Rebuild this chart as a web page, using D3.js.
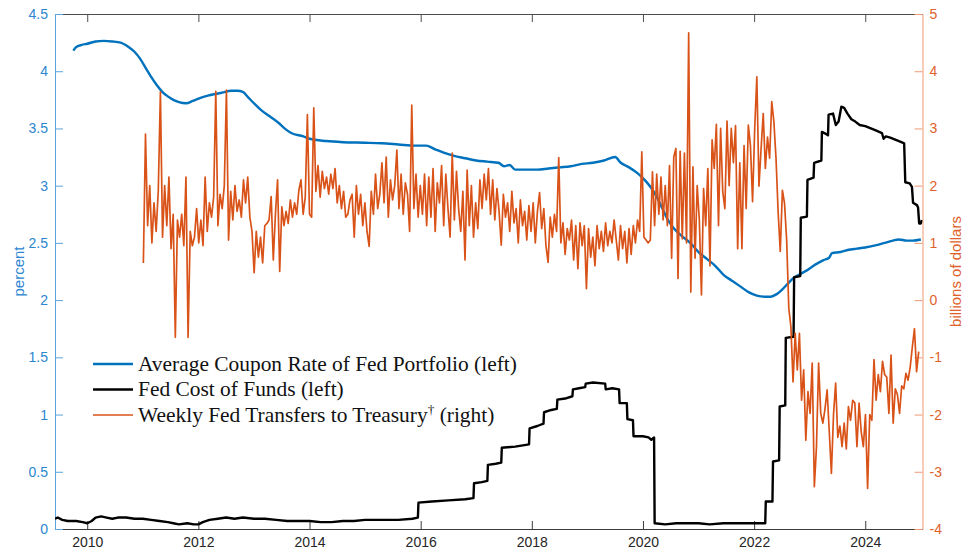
<!DOCTYPE html>
<html>
<head>
<meta charset="utf-8">
<script src="https://cdn.jsdelivr.net/npm/d3@7"></script>
<style>
  body { margin: 0; background: #ffffff; }
  svg { display: block; }
</style>
</head>
<body>
<svg id="chart" width="963" height="552"></svg>
<script>
// ---- data -------------------------------------------------------------
const yearTicks = [2010, 2012, 2014, 2016, 2018, 2020, 2022, 2024];
const leftTicks = [0, 0.5, 1, 1.5, 2, 2.5, 3, 3.5, 4, 4.5];
const rightTicks = [-4, -3, -2, -1, 0, 1, 2, 3, 4, 5];

const seriesNames = [
  "Average Coupon Rate of Fed Portfolio (left)",
  "Fed Cost of Funds (left)",
  "Weekly Fed Transfers to Treasury"
];

// average coupon rate of the SOMA portfolio, percent [year, value]
const couponRate = [
  [2009.75,4.18],[2009.8,4.21],[2009.9,4.23],[2010.0,4.24],[2010.15,4.26],[2010.3,4.265],
  [2010.45,4.26],[2010.6,4.25],[2010.75,4.21],[2010.85,4.17],[2010.95,4.11],[2011.05,4.03],
  [2011.15,3.95],[2011.25,3.88],[2011.35,3.82],[2011.45,3.78],[2011.55,3.75],[2011.65,3.73],
  [2011.78,3.72],[2011.9,3.74],[2012.05,3.77],[2012.2,3.79],[2012.4,3.81],[2012.6,3.83],
  [2012.7,3.83],[2012.8,3.82],[2012.9,3.77],[2013.0,3.72],[2013.13,3.66],[2013.3,3.6],
  [2013.44,3.55],[2013.55,3.5],[2013.67,3.46],[2013.89,3.43],[2014.0,3.41],[2014.3,3.39],
  [2014.6,3.38],[2015.0,3.375],[2015.3,3.37],[2015.6,3.36],[2015.9,3.35],[2016.1,3.35],
  [2016.25,3.32],[2016.4,3.29],[2016.6,3.26],[2016.8,3.24],[2017.0,3.22],[2017.2,3.21],
  [2017.4,3.2],[2017.5,3.17],[2017.6,3.18],[2017.7,3.14],[2017.9,3.14],[2018.1,3.14],
  [2018.3,3.15],[2018.5,3.16],[2018.7,3.17],[2018.9,3.19],[2019.1,3.2],[2019.3,3.22],
  [2019.5,3.25],[2019.6,3.2],[2019.75,3.16],[2019.9,3.11],[2020.05,3.04],[2020.15,2.98],
  [2020.25,2.9],[2020.35,2.8],[2020.45,2.7],[2020.55,2.63],[2020.7,2.56],[2020.85,2.5],
  [2021.0,2.42],[2021.15,2.36],[2021.3,2.3],[2021.45,2.22],[2021.6,2.17],[2021.75,2.12],
  [2021.9,2.07],[2022.05,2.04],[2022.2,2.03],[2022.3,2.03],[2022.4,2.05],[2022.5,2.09],
  [2022.6,2.14],[2022.7,2.19],[2022.8,2.22],[2022.95,2.26],[2023.1,2.31],[2023.25,2.35],
  [2023.35,2.37],[2023.4,2.41],[2023.55,2.42],[2023.7,2.44],[2023.85,2.45],[2024.0,2.46],
  [2024.2,2.48],[2024.35,2.5],[2024.5,2.52],[2024.6,2.53],[2024.75,2.52],[2024.85,2.52],
  [2025.0,2.53]
];

// Fed cost of funds, percent [year, value]
const costOfFunds = [
  [2009.42,0.09],[2009.47,0.1],[2009.55,0.08],[2009.65,0.07],[2009.8,0.07],[2009.92,0.06],
  [2010.0,0.05],[2010.08,0.07],[2010.15,0.1],[2010.25,0.11],[2010.35,0.1],[2010.45,0.09],
  [2010.55,0.1],[2010.7,0.1],[2010.85,0.09],[2011.0,0.09],[2011.15,0.08],[2011.3,0.07],
  [2011.45,0.06],[2011.55,0.05],[2011.65,0.04],[2011.8,0.05],[2011.92,0.04],[2012.0,0.04],
  [2012.08,0.06],[2012.2,0.08],[2012.35,0.09],[2012.5,0.1],[2012.65,0.09],[2012.8,0.1],
  [2013.0,0.09],[2013.2,0.09],[2013.4,0.08],[2013.6,0.07],[2013.8,0.07],[2014.0,0.07],
  [2014.2,0.06],[2014.4,0.06],[2014.6,0.07],[2014.8,0.07],[2015.0,0.08],[2015.3,0.08],
  [2015.6,0.08],[2015.85,0.09],[2015.95,0.1],
  [2015.96,0.23],[2016.2,0.24],[2016.5,0.25],[2016.8,0.26],[2016.95,0.27],
  [2016.96,0.4],[2017.1,0.41],[2017.2,0.42],
  [2017.21,0.56],[2017.35,0.57],[2017.45,0.58],
  [2017.46,0.71],[2017.7,0.72],[2017.95,0.74],
  [2017.96,0.88],[2018.1,0.9],[2018.21,0.92],
  [2018.22,1.02],[2018.35,1.04],[2018.45,1.05],
  [2018.46,1.13],[2018.6,1.14],[2018.73,1.16],
  [2018.74,1.22],[2018.85,1.23],[2018.96,1.24],
  [2018.97,1.27],[2019.1,1.28],[2019.32,1.27],
  [2019.33,1.22],[2019.45,1.23],[2019.57,1.22],
  [2019.58,1.1],[2019.71,1.1],
  [2019.72,0.96],[2019.82,0.95],
  [2019.83,0.81],[2020.0,0.81],[2020.1,0.8],[2020.15,0.78],[2020.2,0.8],
  [2020.21,0.05],[2020.4,0.04],[2020.6,0.05],[2020.8,0.05],[2021.0,0.05],[2021.2,0.04],
  [2021.45,0.05],[2021.6,0.05],[2021.8,0.05],[2022.0,0.05],[2022.2,0.05],
  [2022.21,0.24],[2022.33,0.24],[2022.34,0.59],[2022.45,0.6],[2022.46,1.07],[2022.56,1.08],
  [2022.57,1.67],[2022.71,1.68],[2022.72,2.2],[2022.83,2.21],[2022.84,2.72],[2022.95,2.73],
  [2022.96,3.05],[2023.07,3.07],[2023.08,3.2],[2023.21,3.22],[2023.22,3.47],[2023.3,3.45],
  [2023.33,3.44],[2023.34,3.62],[2023.42,3.63],[2023.47,3.53],[2023.52,3.56],[2023.57,3.69],
  [2023.62,3.68],[2023.68,3.63],[2023.75,3.58],[2023.82,3.56],[2023.9,3.53],[2024.0,3.52],
  [2024.1,3.5],[2024.2,3.48],[2024.3,3.46],[2024.33,3.41],[2024.37,3.43],[2024.45,3.42],
  [2024.55,3.4],[2024.65,3.38],[2024.7,3.37],[2024.72,3.03],[2024.8,3.02],[2024.84,2.99],
  [2024.86,2.85],[2024.93,2.83],[2024.95,2.81],[2024.97,2.67],[2025.0,2.67],[2025.02,2.7]
];

// transfers to Treasury, billions of dollars, one value every two weeks from Jan 2011
const transferStart = 2011.01;
const transferStepDays = 14;
const transfers = [
  // 2011
  0.65, 2.9, 1.3, 2.0, 1.0, 1.7, 1.2, 1.9, 3.64, 1.1, 2.0, 1.3, 2.15, 0.9, 1.5, -0.65,
  1.4, 1.1, 1.5, 0.95, 2.15, -0.65, 1.2, 0.95, 1.1, 1.6,
  // 2012
  1.0, 1.4, 0.95, 2.15, 1.2, 1.7, 1.45, 1.8, 3.65, 1.3, 1.85, 1.6, 2.0, 3.67, 1.05, 1.9,
  1.4, 2.0, 1.55, 1.75, 1.45, 2.1, 1.7, 2.15, 1.45, 1.2,
  // 2013
  0.48, 1.2, 0.75, 1.1, 0.65, 1.3, 1.34, 1.4, 1.81, 0.7, 1.5, 2.1, 0.5, 1.63, 1.3, 1.55,
  1.34, 1.75, 1.45, 1.7, 1.5, 1.92, 2.1, 1.5, 1.8, 3.24,
  // 2014
  1.5, 1.45, 3.36, 1.9, 2.35, 1.8, 2.25, 1.95, 2.15, 1.85, 2.2, 1.95, 2.3, 1.7, 2.0, 1.6,
  1.9, 1.45, 1.5, 1.75, 1.85, 1.1, 2.0, 1.5, 1.85, 1.3,
  // 2015
  1.7, 1.2, 0.94, 1.9, 1.5, 2.2, 1.6, 1.85, 2.4, 1.7, 2.5, 1.45, 2.1, 1.75, 2.0, 2.62,
  1.6, 2.2, 1.5, 2.05, 1.85, 1.2, 3.41, 1.6, 2.2, 1.45,
  // 2016
  2.0, 1.5, 2.2, 1.3, 2.15, 1.45, 2.3, 1.2, 2.05, 1.7, 2.35, 1.3, 2.2, 1.6, 1.1, 2.57,
  1.4, 2.25, 1.6, 1.2, 1.9, 0.7, 2.27, 1.3, 2.0, 1.1,
  // 2017
  1.7, 1.25, 2.1, 1.6, 2.2, 1.75, 2.3, 1.5, 2.1, 1.4, 1.95, 1.55, 0.96, 1.85, 1.45, 1.7,
  1.2, 1.9, 1.35, 1.6, 1.0, 1.75, 1.3, 1.55, 1.05, 1.65,
  // 2018
  1.2, 1.7, 1.0, 1.55, 1.88, 1.25, 1.6, 0.95, 0.66, 1.45, 1.1, 1.5, 1.2, 2.49, 1.0, 1.35,
  0.8, 1.25, 1.05, 1.4, 0.7, 1.3, 0.55, 1.35, 0.95, 1.3,
  // 2019
  0.2, 1.25, 0.75, 1.1, 0.6, 1.3, 0.9, 1.2, 0.85, 1.35, 0.95, 1.2, 1.0, 1.4, 1.05, 0.7,
  1.3, 0.9, 1.2, 0.65, 1.25, 0.8, 1.3, 1.0, 1.4, 1.2,
  // 2020
  2.59, 1.1, 1.05, 1.0, 1.05, 2.24, 1.3, 2.2, 1.5, 2.15, 1.4, 2.0, 1.3, 2.35, 0.73, 2.5,
  2.65, 0.38, 2.6, 1.07, 2.57, 1.0, 4.67, 0.14, 2.33, 0.73,
  // 2021
  2.0, 1.4, 0.09, 1.95, 1.3, 2.3, 0.6, 2.8, 2.3, 3.07, 1.3, 3.0, 1.89, 1.6, 3.13, 2.0,
  3.0, 2.4, 3.05, 0.9, 2.4, 0.9, 2.7, 1.6, 3.06, 2.7,
  // 2022
  1.72, 3.0, 3.9, 1.99, 2.65, 3.26, 2.3, 2.85, 2.48, 3.47, 3.12, 2.48, 1.54, 0.85, 1.92, 1.69,
  1.05, -0.14, -0.47, -1.43, -0.58, -1.22, -0.58, -1.75, -1.22, -2.45,
  // 2023
  -1.6, -1.98, -1.1, -3.26, -2.56, -1.1, -1.98, -2.15, -1.9, -1.57, -2.3, -3.03, -2.0, -1.45, -2.4, -2.2,
  -2.56, -2.15, -2.6, -1.86, -2.1, -1.75, -1.8, -2.56, -1.8, -2.3,
  // 2024
  -2.56, -2.0, -3.29, -2.0, -2.1, -1.04, -1.75, -1.3, -1.6, -1.07, -1.3, -1.35, -1.98, -0.96, -2.15, -1.55,
  -1.65, -1.98, -1.5, -1.55, -1.28, -1.4, -1.17, -0.82, -0.5, -1.25,
  // 2025
  -0.9
];

// ---- layout & scales --------------------------------------------------
const BLUE = "#0072BD", ORANGE = "#D95319", BLACK = "#000000";
const plot = { left: 55, right: 922.5, top: 14, bottom: 529 };
const sansFont = "'Liberation Sans', Arial, Helvetica, sans-serif";
const serifFont = "'Liberation Serif', 'Times New Roman', serif";

const svg = d3.select("#chart");

const x = d3.scaleLinear().domain([2009.42, 2025.03]).range([plot.left, plot.right]);
const yL = d3.scaleLinear().domain([0, 4.5]).range([plot.bottom, plot.top]);
const yR = d3.scaleLinear().domain([-4, 5]).range([plot.bottom, plot.top]);

svg.append("defs").append("clipPath").attr("id", "plot-clip")
  .append("rect")
  .attr("x", plot.left).attr("y", plot.top)
  .attr("width", plot.right - plot.left).attr("height", plot.bottom - plot.top);

// ---- axes -------------------------------------------------------------
function styleAxis(g, lineColor, textColor, fontSize) {
  g.select(".domain").attr("stroke", lineColor).attr("stroke-width", 1);
  g.selectAll(".tick line").attr("stroke", lineColor).attr("stroke-width", 1);
  g.selectAll(".tick text")
    .attr("fill", textColor)
    .attr("font-family", sansFont)
    .attr("font-size", fontSize);
}

// top frame edge with inward ticks
svg.append("g")
  .attr("transform", `translate(0,${plot.top})`)
  .call(d3.axisTop(x).tickValues(yearTicks).tickFormat("").tickSizeInner(-8).tickSizeOuter(0))
  .call(g => styleAxis(g, "#4d4d4d", "#262626", 14));

// bottom axis
svg.append("g")
  .attr("transform", `translate(0,${plot.bottom})`)
  .call(d3.axisBottom(x).tickValues(yearTicks).tickFormat(d => String(d))
    .tickSizeInner(-8).tickSizeOuter(0).tickPadding(8))
  .call(g => styleAxis(g, "#3a3a3a", "#262626", 14));

// left axis (percent)
svg.append("g")
  .attr("transform", `translate(${plot.left},0)`)
  .call(d3.axisLeft(yL).tickValues(leftTicks).tickFormat(d => String(d))
    .tickSizeInner(-8).tickSizeOuter(0).tickPadding(7))
  .call(g => styleAxis(g, "#5ba4dd", "#2c86d0", 14));

// right axis (billions of dollars)
svg.append("g")
  .attr("transform", `translate(${plot.right},0)`)
  .call(d3.axisRight(yR).tickValues(rightTicks).tickFormat(d => String(d))
    .tickSizeInner(-8).tickSizeOuter(0).tickPadding(7))
  .call(g => styleAxis(g, "#ee9a74", "#e0612a", 14));

// axis titles
svg.append("text")
  .attr("transform", `translate(18,${(plot.top + plot.bottom) / 2}) rotate(-90)`)
  .attr("text-anchor", "middle").attr("dominant-baseline", "central")
  .attr("font-family", sansFont).attr("font-size", 15)
  .attr("fill", "#2c86d0")
  .text("percent");

svg.append("text")
  .attr("transform", `translate(955,${(plot.top + plot.bottom) / 2}) rotate(-90)`)
  .attr("text-anchor", "middle").attr("dominant-baseline", "central")
  .attr("font-family", sansFont).attr("font-size", 15)
  .attr("fill", "#e0612a")
  .text("billions of dollars");

// ---- series -----------------------------------------------------------
const series = svg.append("g").attr("clip-path", "url(#plot-clip)");

series.append("path")
  .datum(couponRate)
  .attr("fill", "none").attr("stroke", BLUE).attr("stroke-width", 2.4)
  .attr("stroke-linejoin", "round")
  .attr("d", d3.line().x(d => x(d[0])).y(d => yL(d[1])).curve(d3.curveMonotoneX));

series.append("path")
  .datum(costOfFunds)
  .attr("fill", "none").attr("stroke", BLACK).attr("stroke-width", 2.4)
  .attr("stroke-linejoin", "round")
  .attr("d", d3.line().x(d => x(d[0])).y(d => yL(d[1])));

const transferPoints = transfers.map((v, i) => [transferStart + i * transferStepDays / 365.25, v]);
series.append("path")
  .datum(transferPoints)
  .attr("fill", "none").attr("stroke", ORANGE).attr("stroke-width", 1.7)
  .attr("stroke-linejoin", "round")
  .attr("d", d3.line().x(d => x(d[0])).y(d => yR(d[1])));

// ---- legend -----------------------------------------------------------
const legendRows = [
  { name: seriesNames[0], color: BLUE, width: 2.4, y: 364 },
  { name: seriesNames[1], color: BLACK, width: 2.4, y: 389.5 },
  { name: seriesNames[2], color: ORANGE, width: 1.7, y: 415, dagger: true }
];
const legendTextWidth = 379;   // width of the longest entry
const legend = svg.append("g");

// size the legend type so the longest entry spans its box
const probe = legend.append("text")
  .attr("font-family", serifFont).attr("font-size", 20)
  .text(seriesNames[0]);
const legendFontSize = 20 * legendTextWidth / probe.node().getComputedTextLength();
probe.remove();

legendRows.forEach(r => {
  legend.append("line")
    .attr("x1", 93).attr("x2", 133).attr("y1", r.y).attr("y2", r.y)
    .attr("stroke", r.color).attr("stroke-width", r.width);
  const t = legend.append("text")
    .attr("x", 138).attr("y", r.y + legendFontSize * 0.32)
    .attr("font-family", serifFont).attr("font-size", legendFontSize)
    .attr("fill", "#111");
  if (r.dagger) {
    t.append("tspan").text(r.name);
    t.append("tspan").attr("font-size", legendFontSize * 0.62)
      .attr("dy", -legendFontSize * 0.38).text("\u2020");
    t.append("tspan").attr("dy", legendFontSize * 0.38).text(" (right)");
  } else {
    t.text(r.name);
  }
});
</script>
</body>
</html>
